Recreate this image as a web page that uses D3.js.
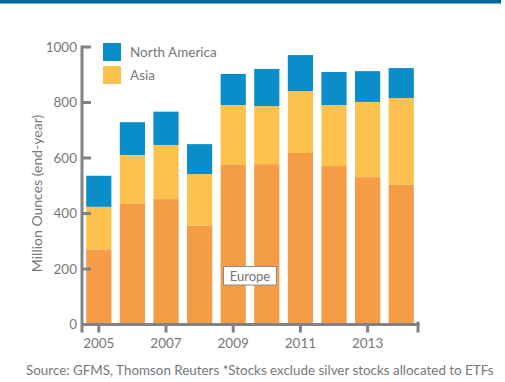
<!DOCTYPE html>
<html>
<head>
<meta charset="utf-8">
<script src="https://cdn.jsdelivr.net/npm/d3@7"></script>
<style>
	body { margin: 0; background: #ffffff; }
	svg { display: block; }
	text { font-family: Lato, 'Open Sans', sans-serif; }
</style>
</head>
<body>
<svg id="chart"></svg>
<script>
makeChart();

function makeChart() {
	// ========== DATA ==========
	var years = ['2005', '2006', '2007', '2008', '2009', '2010', '2011', '2012', '2013', '2014'];
	var europe = [271, 437, 452, 356, 575, 578, 618, 571, 531, 503];
	var asia = [153, 174, 195, 186, 216, 209, 223, 220, 271, 313];
	var northAmerica = [112, 118, 120, 108, 112, 134, 130, 119, 111, 108];
	var yTicks = [0, 200, 400, 600, 800, 1000];
	var xTicks = ['2005', '2007', '2009', '2011', '2013'];

	// ========== STYLE ==========
	var width = 505;
	var height = 382;
	var text_color = '#77787b';
	var axis_color = '#808285';
	var colors = {
		europe: '#f59d46',
		asia: '#fdc24d',
		northAmerica: '#0a8dc8'
	};

	var left = 82;
	var right = 418;
	var bottom = 324.5;
	var top = 47;

	var svg = d3.select('svg#chart')
		.attr('width', width)
		.attr('height', height);

	// top band
	svg.append('rect')
		.attr('x', 0)
		.attr('y', 0)
		.attr('width', 501)
		.attr('height', 3.5)
		.attr('fill', '#00679c');

	var x = d3.scaleBand()
		.domain(years)
		.range([left, right])
		.paddingInner(0.25)
		.paddingOuter(0.125);

	var y = d3.scaleLinear()
		.domain([0, 1000])
		.range([bottom, top]);

	// stack the series
	var rows = years.map(function(yr, i) {
		return { year: yr, europe: europe[i], asia: asia[i], northAmerica: northAmerica[i] };
	});
	var stack = d3.stack().keys(['europe', 'asia', 'northAmerica']);
	var series = stack(rows);

	svg.append('g')
		.selectAll('g')
		.data(series)
		.enter().append('g')
			.attr('fill', function(s) { return colors[s.key]; })
		.selectAll('rect')
		.data(function(s) { return s; })
		.enter().append('rect')
			.attr('x', function(d) { return x(d.data.year); })
			.attr('width', x.bandwidth())
			.attr('y', function(d) { return y(d[1]); })
			.attr('height', function(d) { return y(d[0]) - y(d[1]); });

	// y axis
	var yAxis = svg.append('g');
	yAxis.append('line')
		.attr('x1', left)
		.attr('x2', left)
		.attr('y1', y(1000) - 1.5)
		.attr('y2', bottom + 8)
		.attr('stroke', axis_color)
		.attr('stroke-width', 3);
	yAxis.selectAll('.ytick')
		.data(yTicks)
		.enter().append('line')
			.attr('class', 'ytick')
			.attr('x1', left)
			.attr('x2', left + 9)
			.attr('y1', function(d) { return y(d); })
			.attr('y2', function(d) { return y(d); })
			.attr('stroke', axis_color)
			.attr('stroke-width', 3);
	yAxis.selectAll('.ylabel')
		.data(yTicks)
		.enter().append('text')
			.attr('class', 'ylabel')
			.attr('x', left - 5)
			.attr('y', function(d) { return y(d); })
			.attr('dy', '0.35em')
			.attr('text-anchor', 'end')
			.attr('fill', text_color)
			.style('font-size', '13.5px')
			.text(function(d) { return d; });

	// x axis
	var xAxis = svg.append('g');
	xAxis.append('line')
		.attr('x1', left)
		.attr('x2', right + 1.5)
		.attr('y1', bottom)
		.attr('y2', bottom)
		.attr('stroke', axis_color)
		.attr('stroke-width', 3);
	xAxis.append('line')
		.attr('x1', right)
		.attr('x2', right)
		.attr('y1', bottom - 3)
		.attr('y2', bottom + 8)
		.attr('stroke', axis_color)
		.attr('stroke-width', 3);
	xAxis.selectAll('.xtick')
		.data(xTicks)
		.enter().append('line')
			.attr('class', 'xtick')
			.attr('x1', function(d) { return x(d) + x.bandwidth() / 2; })
			.attr('x2', function(d) { return x(d) + x.bandwidth() / 2; })
			.attr('y1', bottom)
			.attr('y2', bottom + 8)
			.attr('stroke', axis_color)
			.attr('stroke-width', 3);
	xAxis.selectAll('.xlabel')
		.data(xTicks)
		.enter().append('text')
			.attr('class', 'xlabel')
			.attr('x', function(d) { return x(d) + x.bandwidth() / 2; })
			.attr('y', 348)
			.attr('text-anchor', 'middle')
			.attr('fill', text_color)
			.style('font-size', '13.5px')
			.text(function(d) { return d; });

	// axis title
	svg.append('text')
		.attr('transform', 'translate(42,193.5)rotate(-90)')
		.attr('text-anchor', 'middle')
		.attr('fill', text_color)
		.style('font-size', '14px')
		.text('Million Ounces (end-year)');

	// legend
	var legend = [
		{ key: 'northAmerica', label: 'North America', y: 43 },
		{ key: 'asia', label: 'Asia', y: 66 }
	];
	var lg = svg.selectAll('.legend')
		.data(legend)
		.enter().append('g')
			.attr('class', 'legend');
	lg.append('rect')
		.attr('x', 103)
		.attr('y', function(d) { return d.y; })
		.attr('width', 18)
		.attr('height', 18)
		.attr('fill', function(d) { return colors[d.key]; });
	lg.append('text')
		.attr('x', 130)
		.attr('y', function(d) { return d.y + 9; })
		.attr('dy', '0.35em')
		.attr('fill', text_color)
		.style('font-size', '13.5px')
		.text(function(d) { return d.label; });

	// europe label
	svg.append('rect')
		.attr('x', 223.5)
		.attr('y', 266.5)
		.attr('width', 53)
		.attr('height', 18.5)
		.attr('fill', '#ffffff')
		.attr('stroke', '#8a8c8f')
		.attr('stroke-width', 1);
	svg.append('text')
		.attr('x', 250)
		.attr('y', 276)
		.attr('dy', '0.35em')
		.attr('text-anchor', 'middle')
		.attr('fill', text_color)
		.style('font-size', '13px')
		.text('Europe');

	// source
	svg.append('text')
		.attr('x', 26)
		.attr('y', 375)
		.attr('fill', text_color)
		.style('font-size', '13.4px')
		.text('Source: GFMS, Thomson Reuters *Stocks exclude silver stocks allocated to ETFs');
}
</script>
</body>
</html>
